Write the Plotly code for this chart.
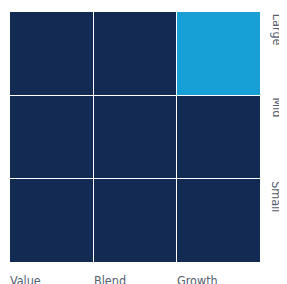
import plotly.graph_objects as go

styles = ["Value", "Blend", "Growth"]
sizes = ["Large", "Mid", "Small"]
# 1 = highlighted cell, 0 = other
highlight = [
    [0, 0, 1],  # Large
    [0, 0, 0],  # Mid
    [0, 0, 0],  # Small
]

navy = "#132B52"
blue = "#16A0D6"
font_fam = "Liberation Sans Narrow, DejaVu Sans Condensed, Roboto, sans-serif"
txt_col = "#566070"

fig = go.Figure(go.Heatmap(
    z=highlight,
    x=styles,
    y=sizes,
    colorscale=[[0, navy], [1, blue]],
    zmin=0, zmax=1,
    showscale=False,
    xgap=1, ygap=1,
    hoverinfo="skip",
))

annotations = []
for i, s in enumerate(styles):
    annotations.append(dict(
        x=i - 0.5, y=0, xref="x", yref="paper",
        text=s, showarrow=False, xanchor="left", yanchor="top",
        xshift=-2, yshift=-8, font=dict(family=font_fam, size=12.5, color=txt_col),
    ))
for j, s in enumerate(sizes):
    annotations.append(dict(
        x=1, y=j, xref="paper", yref="y",
        text=s, showarrow=False, xanchor="center", yanchor="middle",
        width=80, align="left",
        xshift=16, textangle=90,
        font=dict(family=font_fam, size=12.5, color=txt_col),
    ))

fig.update_layout(
    width=279, height=276,
    margin=dict(l=2, r=26, t=4, b=21),
    paper_bgcolor="white", plot_bgcolor="white",
    xaxis=dict(visible=False, range=[-0.5, 2.5]),
    yaxis=dict(visible=False, range=[2.5, -0.5]),
    annotations=annotations,
)

fig.write_html("out.html")
